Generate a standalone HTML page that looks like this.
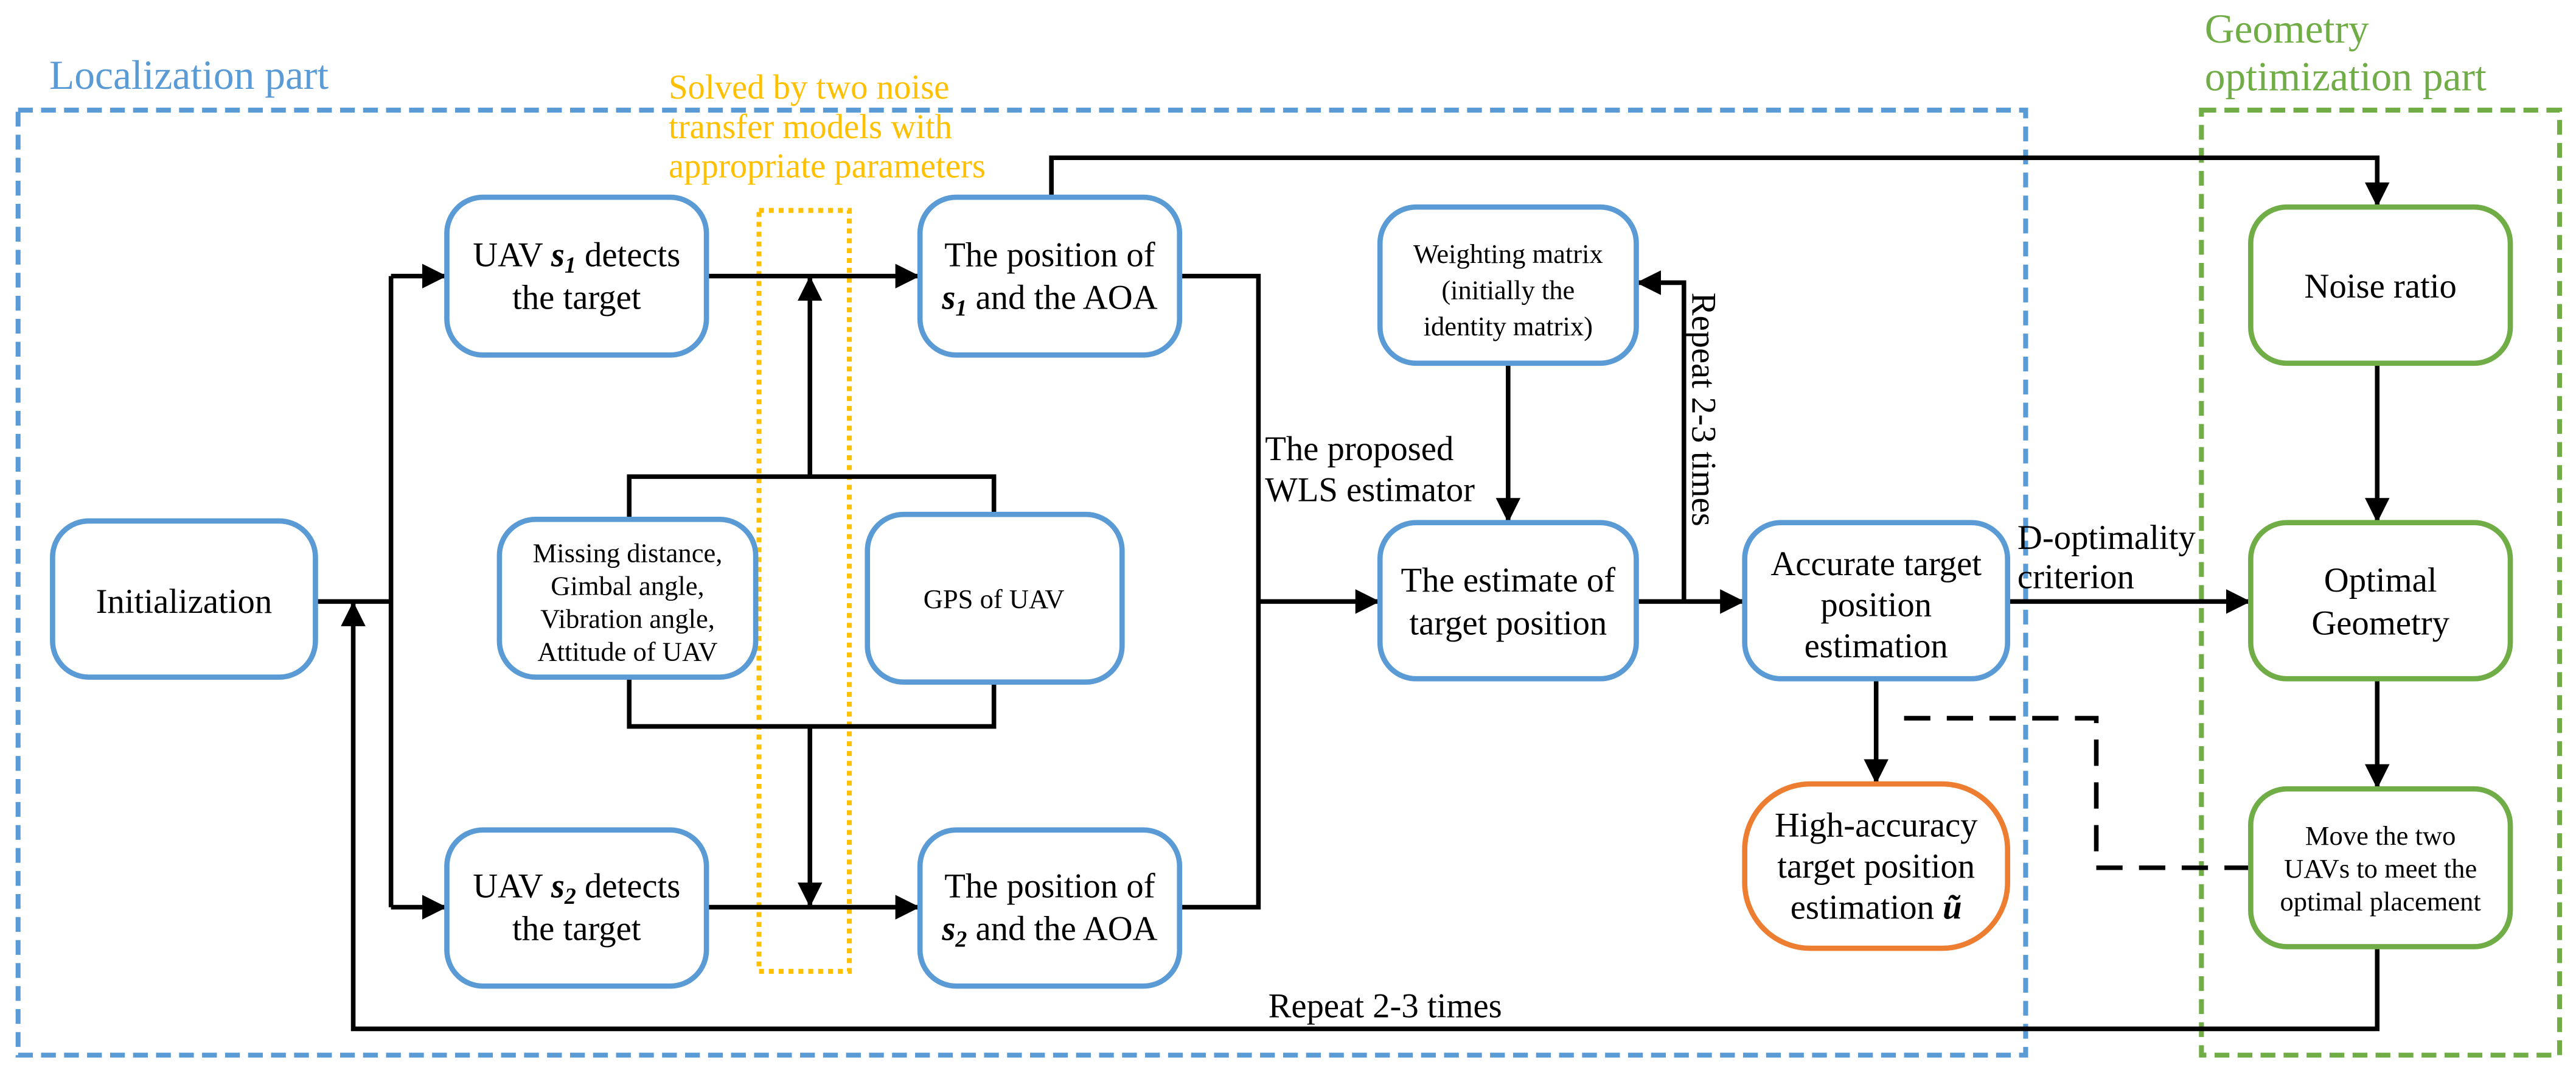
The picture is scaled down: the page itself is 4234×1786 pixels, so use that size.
<!DOCTYPE html>
<html><head><meta charset="utf-8"><style>
html,body{margin:0;padding:0;background:#fff;}
svg{display:block;}
svg, svg text{font-family:"Liberation Serif","Times New Roman","DejaVu Serif",serif !important;}
</style></head><body>
<svg width="4234" height="1786" viewBox="0 0 1568 661.4" preserveAspectRatio="none" xmlns="http://www.w3.org/2000/svg" font-family="Liberation Serif, Times New Roman, DejaVu Serif, serif">
<defs>
<marker id="b" viewBox="0 0 10 10" refX="10" refY="5" markerWidth="15" markerHeight="15" orient="auto" markerUnits="userSpaceOnUse"><path d="M0,0 L10,5 L0,10 z" fill="#000"/></marker>
</defs>
<rect x="11" y="67" width="1222" height="575" fill="none" stroke="#5b9bd5" stroke-width="3" stroke-dasharray="9,5"/>
<rect x="1340" y="67" width="218" height="575" fill="none" stroke="#70ad47" stroke-width="3" stroke-dasharray="9,5"/>
<rect x="462" y="128" width="55" height="463" fill="none" stroke="#ffc000" stroke-width="3" stroke-dasharray="3,3"/>
<text x="30" y="54" font-size="25" fill="#5b9bd5">Localization part</text>
<text x="1342" y="26" font-size="25" fill="#70ad47">Geometry</text>
<text x="1342" y="55" font-size="25" fill="#70ad47">optimization part</text>
<g font-size="21" fill="#ffc000">
<text x="407" y="60">Solved by two noise</text>
<text x="407" y="84">transfer models with</text>
<text x="407" y="108">appropriate parameters</text>
</g>
<g fill="none" stroke="#000" stroke-width="2.8">
<path d="M192,366 H238"/>
<path d="M238,168 V552"/>
<path d="M238,168 H272" marker-end="url(#b)"/>
<path d="M238,552 H272" marker-end="url(#b)"/>
<path d="M1447,576 V626 H215 V366" marker-end="url(#b)"/>
<path d="M430,168 H560" marker-end="url(#b)"/>
<path d="M430,552 H560" marker-end="url(#b)"/>
<path d="M493,290 V168" marker-end="url(#b)"/>
<path d="M493,442 V552" marker-end="url(#b)"/>
<path d="M383,316 V290 H605 V313"/>
<path d="M383,412 V442 H605 V415"/>
<path d="M718,168 H766 V552 H718"/>
<path d="M766,366 H840" marker-end="url(#b)"/>
<path d="M640,120 V96 H1447 V126" marker-end="url(#b)"/>
<path d="M918,221 V318" marker-end="url(#b)"/>
<path d="M996,366 H1062" marker-end="url(#b)"/>
<path d="M1025,366 V172 H996" marker-end="url(#b)"/>
<path d="M1222,366 H1370" marker-end="url(#b)"/>
<path d="M1142,413 V477" marker-end="url(#b)"/>
<path d="M1447,221 V318" marker-end="url(#b)"/>
<path d="M1447,413 V480" marker-end="url(#b)"/>
<path d="M1370,528 H1276 V437 H1150" stroke-dasharray="16,10"/>
</g>
<g fill="#fff" stroke="#5b9bd5" stroke-width="3.2">
<rect x="32" y="317" width="160" height="95" rx="22"/>
<rect x="272" y="120" width="158" height="96" rx="22"/>
<rect x="304" y="316" width="156" height="96" rx="22"/>
<rect x="528" y="313" width="155" height="102" rx="22"/>
<rect x="272" y="505" width="158" height="95" rx="22"/>
<rect x="560" y="120" width="158" height="96" rx="22"/>
<rect x="560" y="505" width="158" height="95" rx="22"/>
<rect x="840" y="126" width="156" height="95" rx="22"/>
<rect x="840" y="318" width="156" height="95" rx="22"/>
<rect x="1062" y="318" width="160" height="95" rx="22"/>
</g>
<rect x="1062" y="477" width="160" height="100" rx="40" fill="#fff" stroke="#ed7d31" stroke-width="3.2"/>
<g fill="#fff" stroke="#70ad47" stroke-width="3.2">
<rect x="1370" y="126" width="158" height="95" rx="22"/>
<rect x="1370" y="318" width="158" height="95" rx="22"/>
<rect x="1370" y="480" width="158" height="96" rx="22"/>
</g>
<g font-size="21" fill="#000" text-anchor="middle">
<text x="112" y="373">Initialization</text>
<text x="351" y="162">UAV <tspan font-weight="bold" font-style="italic">s</tspan><tspan font-weight="bold" font-style="italic" font-size="14" dy="4">1</tspan><tspan dy="-4"> detects</tspan></text>
<text x="351" y="188">the target</text>
<text x="351" y="546">UAV <tspan font-weight="bold" font-style="italic">s</tspan><tspan font-weight="bold" font-style="italic" font-size="14" dy="4">2</tspan><tspan dy="-4"> detects</tspan></text>
<text x="351" y="572">the target</text>
<text x="639" y="162">The position of</text>
<text x="639" y="188"><tspan font-weight="bold" font-style="italic">s</tspan><tspan font-weight="bold" font-style="italic" font-size="14" dy="4">1</tspan><tspan dy="-4"> and the AOA</tspan></text>
<text x="639" y="546">The position of</text>
<text x="639" y="572"><tspan font-weight="bold" font-style="italic">s</tspan><tspan font-weight="bold" font-style="italic" font-size="14" dy="4">2</tspan><tspan dy="-4"> and the AOA</tspan></text>
<text x="918" y="360">The estimate of</text>
<text x="918" y="386">target position</text>
<text x="1142" y="350">Accurate target</text>
<text x="1142" y="375">position</text>
<text x="1142" y="400">estimation</text>
<text x="1142" y="509">High-accuracy</text>
<text x="1142" y="534">target position</text>
<text x="1142" y="559">estimation <tspan font-weight="bold" font-style="italic">ũ</tspan></text>
<text x="1449" y="181">Noise ratio</text>
<text x="1449" y="360">Optimal</text>
<text x="1449" y="386">Geometry</text>
</g>
<g font-size="16.5" fill="#000" text-anchor="middle">
<text x="382" y="342">Missing distance,</text>
<text x="382" y="362">Gimbal angle,</text>
<text x="382" y="382">Vibration angle,</text>
<text x="382" y="402">Attitude of UAV</text>
<text x="605" y="370">GPS of UAV</text>
<text x="918" y="160">Weighting matrix</text>
<text x="918" y="182">(initially the</text>
<text x="918" y="204">identity matrix)</text>
<text x="1449" y="514">Move the two</text>
<text x="1449" y="534">UAVs to meet the</text>
<text x="1449" y="554">optimal placement</text>
</g>
<g font-size="21" fill="#000">
<text x="770" y="280">The proposed</text>
<text x="770" y="305">WLS estimator</text>
<text x="1228" y="334">D-optimality</text>
<text x="1228" y="358">criterion</text>
<text x="772" y="619">Repeat 2-3 times</text>
<text transform="translate(1030,178) rotate(90)">Repeat 2-3 times</text>
</g>
</svg>
</body></html>
